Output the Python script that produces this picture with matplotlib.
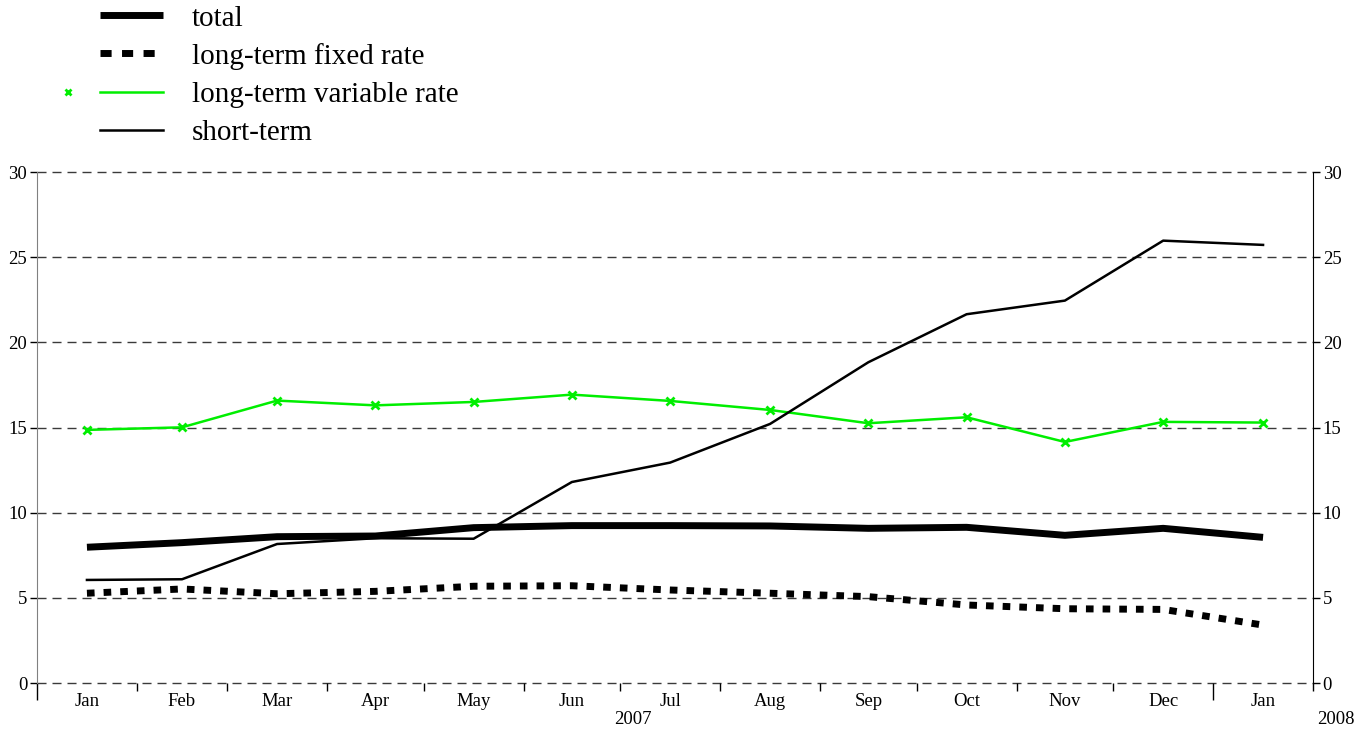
import matplotlib
matplotlib.use("Agg")
import matplotlib.pyplot as plt
import matplotlib.dates as mdates
import matplotlib.transforms as mtrans
from matplotlib.lines import Line2D
import datetime as dt

plt.rcParams['font.family'] = ['Liberation Serif', 'DejaVu Serif']

months = ["Jan", "Feb", "Mar", "Apr", "May", "Jun", "Jul", "Aug", "Sep", "Oct", "Nov", "Dec", "Jan"]
years = [2007]*12 + [2008]
total = [7.97, 8.24, 8.59, 8.63, 9.12, 9.24, 9.24, 9.22, 9.08, 9.14, 8.67, 9.08, 8.55]
fixed = [5.27, 5.52, 5.24, 5.38, 5.68, 5.71, 5.46, 5.27, 5.07, 4.58, 4.36, 4.32, 3.40]
variable = [14.86, 15.01, 16.58, 16.30, 16.50, 16.93, 16.56, 16.03, 15.25, 15.60, 14.15, 15.33, 15.29]
short = [6.05, 6.09, 8.16, 8.50, 8.47, 11.80, 12.94, 15.21, 18.83, 21.65, 22.45, 25.97, 25.72]
yticks = [0, 5, 10, 15, 20, 25, 30]

W, H = 1358, 733
fig = plt.figure(figsize=(W/100, H/100), dpi=100)
ax = fig.add_axes([37/W, (H-683)/H, (1313-37)/W, (683-172)/H])

# month starts and mid-month dates
starts = []
for i, y in enumerate(years):
    m = i % 12 + 1
    starts.append(dt.datetime(y, m, 1))
starts.append(dt.datetime(2008, 2, 1))
mids = [starts[i] + (starts[i+1]-starts[i])/2 for i in range(len(months))]
xm = mdates.date2num(mids)

for yv in yticks:
    ax.axhline(yv, color='#3a3a3a', lw=1.0, dashes=(6.5, 4.3), zorder=1, clip_on=False)

ax.plot(xm, variable, color='#00ee00', lw=1.8, marker='x', ms=6, mew=2, zorder=3)
ax.plot(xm, short, color='black', lw=1.8, zorder=4)
ax.plot(xm, total, color='black', lw=5, solid_capstyle='butt', zorder=5)
ax.plot(xm, fixed, color='black', lw=5, dashes=(1.1, 1.3), dash_capstyle='butt', zorder=5)

ax.set_xlim(mdates.date2num(starts[0]), mdates.date2num(starts[-1]))
ax.set_ylim(0, 30)

ax.spines['top'].set_visible(False)
ax.spines['bottom'].set_visible(False)
ax.spines['left'].set_color('#808080')
ax.spines['right'].set_color('black')

ax.set_yticks(yticks)
ax.tick_params(axis='y', which='both', direction='out', length=5, width=1,
               labelsize=13.5, left=True, right=True, labelleft=True, labelright=True, pad=2)

ax.set_xticks(xm)
ax.set_xticklabels(months)
ax.set_xticks(mdates.date2num(starts), minor=True)
ax.tick_params(axis='x', which='major', length=0, pad=7, labelsize=13.5)
ax.tick_params(axis='x', which='minor', length=6, width=1, direction='out')
for i, t in enumerate(ax.xaxis.get_minor_ticks()):
    if starts[i].month == 1 and i < len(starts) - 1:
        t.tick1line.set_markersize(12)

trans = mtrans.blended_transform_factory(ax.transData, fig.transFigure)
ax.text(mdates.date2num(dt.datetime(2007, 7, 5)), (H-720)/H, "2007", transform=trans,
        ha='center', va='center', fontsize=13.5, clip_on=False)
ax.text(mdates.date2num(dt.datetime(2008, 2, 8)), (H-720)/H, "2008", transform=trans,
        ha='center', va='center', fontsize=13.5, clip_on=False)

# legend drawn in figure pixel space
def fx(x):
    return x / W
def fy(y):
    return (H - y) / H

rows = [15, 53, 92, 130]
baselines = [26, 64, 102, 140]
labels = ["total", "long-term fixed rate", "long-term variable rate", "short-term"]
styles = [dict(color='black', lw=5, solid_capstyle='butt'),
          dict(color='black', lw=5, dashes=(1.6, 1.5), dash_capstyle='butt'),
          dict(color='#00ee00', lw=1.8),
          dict(color='black', lw=1.8)]
for yy, yb, lab, st in zip(rows, baselines, labels, styles):
    fig.add_artist(Line2D([fx(100), fx(163)], [fy(yy), fy(yy)], transform=fig.transFigure, **st))
    fig.text(fx(192), fy(yb), lab, ha='left', va='baseline', fontsize=21)
fig.add_artist(Line2D([fx(68)], [fy(92)], transform=fig.transFigure, marker='x', ms=5,
                      mew=2, color='#00ee00', linestyle='none'))

fig.savefig("out.png", dpi=100)
